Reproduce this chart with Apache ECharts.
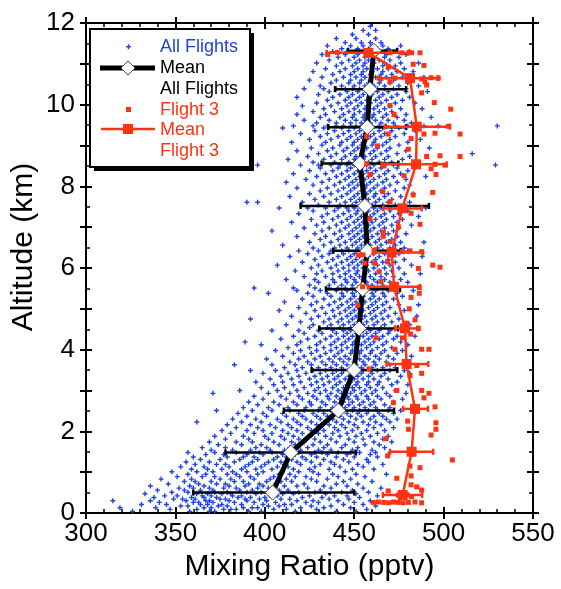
<!DOCTYPE html>
<html><head><meta charset="utf-8">
<script src="https://cdn.jsdelivr.net/npm/echarts@6/dist/echarts.min.js"></script>
<style>html,body{margin:0;padding:0;background:#fff}#c{width:561px;height:589px}</style>
</head><body><div id="c"></div>
<script>
// ---- axis ticks ----
const xTickLabels = [300, 350, 400, 450, 500, 550];
const yTickLabels = [0, 2, 4, 6, 8, 10, 12];

// ---- Mean, all flights (altitude km, mixing ratio pptv, error bar low/high) ----
const meanAllAlt = [0.50, 1.48, 2.51, 3.50, 4.52, 5.48, 6.42, 7.52, 8.56, 9.45, 10.38, 11.32];
const meanAllMix = [404.4, 414.5, 441.1, 449.9, 452.7, 454.7, 457.3, 456.0, 453.2, 457.3, 458.8, 461.0];
const meanAllLo  = [360.0, 378.0, 410.7, 426.2, 430.5, 434.2, 438.3, 420.0, 431.8, 435.5, 439.3, 446.5];
const meanAllHi  = [450.0, 451.0, 472.3, 474.1, 474.5, 475.6, 476.0, 491.8, 474.7, 479.0, 479.0, 474.0];

// ---- Mean, flight 3 ----
const meanF3Alt = [0.44, 1.50, 2.55, 3.65, 4.52, 5.54, 6.38, 7.46, 8.54, 9.46, 10.65, 11.27];
const meanF3Mix = [477.1, 482.1, 484.0, 479.3, 478.4, 472.3, 471.0, 476.9, 484.6, 485.0, 481.2, 457.9];
const meanF3Lo  = [466.0, 470.0, 477.3, 468.1, 472.8, 457.7, 460.5, 466.3, 465.4, 467.0, 464.4, 434.6];
const meanF3Hi  = [488.0, 494.2, 491.3, 491.4, 485.7, 486.8, 488.5, 487.7, 501.7, 503.6, 496.9, 480.0];

// ---- Flight 3 samples: [mixing ratio, altitude] ----
const flight3Points = [
 [435.2,11.23],[440.6,11.28],[470,11.27],[476.6,11.27],[482.1,11.27],[486.8,11.27],[483,10.99],[489,10.96],[469,10.93],
 [463.9,10.65],[470,10.56],[472.8,10.65],[487.7,10.63],[489.6,10.56],[493,10.66],[497,10.65],[490.5,10.48],[487.7,10.29],
 [494.8,10.05],[504,9.89],[470,9.98],[472.3,9.76],
 [502.7,9.47],[509.2,9.28],[495.2,9.30],[489,9.28],[469,9.28],[481.8,9.17],[457,9.22],[463,8.99],[480.3,8.91],
 [490.5,8.73],[498,8.75],[509.2,8.73],
 [457,8.55],[466.7,8.5],[495.2,8.54],[500.8,8.52],[493,8.43],[495.7,8.29],[458.8,8.29],[477.9,8.26],
 [466,7.87],[483,7.79],[493.9,7.85],[470,7.62],[481.8,7.34],[458.8,7.20],[486.8,7.07],[474.7,7.01],[466.3,6.88],
 [466.3,6.78],[470,6.65],
 [461.2,6.44],[477,6.4],[481.2,6.42],[487.7,6.4],[452.3,6.32],[455,6.32],[468.7,6.15],[461.6,6.12],[456,6.12],
 [493.9,6.07],[498,6.02],[485.9,5.99],[463.9,5.91],[465,5.67],
 [454.7,5.54],[486.4,5.52],[486.4,5.38],[481.8,5.28],[452,5.09],[480.8,5.0],[484,4.73],[479.4,4.65],[485.9,4.52],
 [481.6,4.38],[462.2,4.29],[477,4.29],
 [472.8,4.01],[487.7,4.01],[491.8,4.01],[458.3,3.53],[485,3.61],[487.7,3.42],[481.2,3.36],[473.8,3.0],[487.7,3.0],
 [491.8,2.93],[489,2.82],[471.9,2.70],[495.2,2.60],[479.9,2.25],[495.7,2.21],[495.7,2.05],[480.3,2.05],[493,1.91],
 [467.8,1.82],[468.7,1.40],[504.9,1.30],[486.8,1.11],[481.2,1.15],[473.8,0.85],[481.8,0.91],[485,0.64],[487.7,0.56],
 [481.8,0.69],[469,0.54],
 [460.7,0.26],[463.5,0.27],[466.5,0.26],[469.3,0.25],[472,0.27],[474.7,0.26],[477.4,0.25],[480.3,0.26],[484,0.27],
 [487.7,0.25],[474.7,0.44],[477,0.42],[479.5,0.45],[482,0.40]
];

// ---- All flights samples: altitude of each row (km) and the mixing ratios read at it (pptv) ----
const allAlt = [
 0.04,0.09,0.13,0.17,0.21,0.26,0.30,0.34,0.38,0.42,0.47,0.51,0.56,0.61,0.66,0.71,0.77,0.83,0.89,0.95,
 1.01,1.07,1.13,1.19,1.25,1.31,1.37,1.43,1.48,1.54,1.60,1.67,1.74,1.81,1.88,1.95,
 2.02,2.09,2.16,2.23,2.30,2.37,2.44,2.51,2.58,2.65,2.72,2.79,2.86,2.93,
 3.00,3.07,3.14,3.21,3.28,3.35,3.42,3.49,3.56,3.63,3.70,3.77,3.84,3.91,3.98,
 4.05,4.12,4.19,4.26,4.33,4.40,4.47,4.54,4.61,4.68,4.75,4.82,4.89,4.96,
 5.03,5.10,5.17,5.24,5.31,5.38,5.45,5.51,5.58,5.65,5.72,5.79,5.86,5.93,
 6.00,6.07,6.14,6.21,6.28,6.35,6.42,6.49,6.56,6.63,6.70,6.77,6.84,6.91,6.98,
 7.05,7.12,7.19,7.26,7.33,7.40,7.47,7.54,7.61,7.68,7.75,7.82,7.89,7.96,
 8.03,8.10,8.17,8.24,8.31,8.38,8.45,8.52,8.59,8.66,8.73,8.80,8.87,8.94,
 9.01,9.08,9.15,9.22,9.29,9.36,9.43,9.48,9.55,9.62,9.69,9.76,9.83,9.90,9.97,
 10.04,10.11,10.18,10.25,10.32,10.39,10.46,10.53,10.60,10.67,10.74,10.81,10.88,10.95,
 11.02,11.09,11.16,11.23,11.30,11.37,11.44,11.52,11.62,11.72,11.82,11.92
];
const allMix = [
 [326,358,369,372,391,398,417,440,451],
 [347,362,377,381,384,405,412,429,457],
 [319,339,366,370,388,393,396,420,433,448],
 [353,357,374,379,402,408,426,437,462],
 [331,345,364,368,376,387,399,411,415,444,455],
 [341,360,363,371,383,394,406,423,430,450],
 [315,336,356,367,369,380,390,401,418,427,441,459],
 [349,354,361,375,378,389,397,409,414,436,447],
 [338,359,366,373,385,392,400,421,432,453],
 [344,351,365,370,382,387,403,407,425,439,446,463],
 [333,362,368,376,381,395,410,416,434,451],
 [348,357,372,379,390,398,404,419,428,443,458],
 [340,355,364,371,386,393,408,413,431,449],
 [352,360,369,377,384,396,402,424,437,455,465],
 [336,358,366,380,389,399,411,418,433,446],
 [346,363,373,378,391,397,406,422,440,452],
 [355,361,370,383,388,401,409,415,429,444,460],
 [342,359,375,381,394,403,412,426,435,448],
 [351,365,372,386,392,405,417,423,441,456],
 [357,367,379,384,396,408,414,430,438,451,468],
 [348,362,371,382,390,399,410,419,427,445],
 [359,368,376,387,395,404,416,425,436,449,461],
 [353,366,380,389,398,407,413,428,442,455],
 [361,373,378,391,400,411,420,431,439,452,466],
 [356,369,383,393,402,409,418,426,437,447,458],
 [364,375,386,396,405,415,423,433,444,457],
 [360,379,388,394,407,412,421,429,440,450,463],
 [367,377,390,399,410,417,426,435,446,459],
 [357,372,384,397,404,413,419,428,432,441,448,453,462,470],
 [370,382,392,403,411,420,430,437,449,460],
 [365,378,395,401,414,424,433,443,452,467],
 [374,387,398,408,417,427,435,445,456,464],
 [369,384,393,405,415,422,431,440,450,461,471],
 [378,391,402,411,419,428,437,447,455,466],
 [372,388,400,409,416,425,434,442,451,459,469],
 [381,394,404,413,421,430,438,446,454,463],
 [376,390,399,410,418,426,433,441,449,457,467],
 [384,396,406,415,424,431,439,445,452,461,472],
 [379,392,403,413,420,429,436,443,450,458,465],
 [362,387,398,409,418,426,434,440,447,455,462,470],
 [382,395,407,416,423,431,438,444,451,459,468,474],
 [390,401,412,421,429,435,442,448,454,461,466],
 [385,399,410,419,427,433,439,446,452,457,464,472],
 [373,393,404,414,422,430,437,441,444,449,453,458,463,469,476],
 [388,402,413,423,431,438,445,450,456,462,470],
 [396,408,418,426,434,441,447,453,459,467],
 [391,405,416,425,432,439,444,449,455,461,472],
 [399,412,421,429,436,442,447,452,458,465,477],
 [394,409,419,427,435,440,446,451,457,463,470],
 [371,402,414,424,431,437,443,448,454,460,468,479],
 [386,407,418,428,434,441,445,450,456,462,473],
 [398,411,422,430,438,444,449,453,459,466],
 [405,416,426,433,440,446,451,457,463,471,480],
 [395,410,420,429,436,442,448,452,458,464,474],
 [403,415,425,432,439,445,450,455,461,469],
 [409,419,428,435,441,447,452,458,465,476],
 [399,413,423,431,438,443,449,454,460,467,481],
 [392,406,418,427,434,440,444,448,451,455,459,463,470,478],
 [411,421,430,437,443,449,454,460,466,473],
 [383,404,417,426,434,440,446,451,456,462,470],
 [414,424,432,438,444,450,455,461,468,479],
 [401,419,428,436,442,447,453,458,464,472],
 [410,422,431,439,445,451,456,462,469,482],
 [416,426,434,441,448,453,459,465,474],
 [406,420,429,437,443,449,454,460,467,477],
 [413,425,433,440,446,451,457,463,471],
 [398,418,429,437,443,449,454,459,466,480],
 [389,420,431,439,445,450,456,461,468,476],
 [409,424,434,441,447,452,458,464,472],
 [416,428,437,444,449,455,460,466,474,484],
 [422,432,440,446,451,457,462,469],
 [404,419,430,438,444,448,452,455,459,464,470,478],
 [425,435,442,448,453,458,465,473],
 [412,427,437,444,450,455,461,467,481],
 [420,433,441,447,452,457,463,471],
 [392,426,436,443,449,454,460,466,475],
 [415,430,439,446,451,456,462,469,485],
 [423,434,442,448,453,459,465,473],
 [408,428,438,445,450,455,461,467,478],
 [419,432,441,447,452,458,463,470],
 [426,436,443,449,454,460,466,475,486],
 [411,429,439,446,451,456,462,468],
 [421,433,442,448,453,459,464,472],
 [427,437,444,450,455,461,467,477],
 [402,424,435,443,449,454,460,466,474],
 [418,431,440,446,451,456,462,469,483],
 [394,416,428,436,441,445,449,452,456,459,463,468,475],
 [425,436,443,449,454,460,466,473],
 [430,439,446,451,457,463,470,480],
 [412,428,438,445,450,455,461,467,476],
 [422,434,442,448,453,459,465,472],
 [429,438,445,451,456,462,468,478,487],
 [417,432,441,447,452,458,464,471],
 [426,437,444,450,455,461,467,475],
 [407,430,440,447,452,457,463,470,482],
 [421,435,443,449,454,460,466,473],
 [428,438,446,451,456,462,469,478],
 [414,432,441,448,453,458,464,471,488],
 [424,436,444,450,455,461,467,475],
 [419,430,437,443,447,451,454,458,462,466,472,480],
 [427,439,446,452,457,463,470,478],
 [410,433,442,449,454,459,465,473],
 [425,437,445,451,456,462,468,476,489],
 [431,441,448,453,458,464,471],
 [418,434,443,450,455,460,466,474],
 [428,439,447,452,457,463,469,479],
 [404,432,442,449,454,459,465,472],
 [422,436,445,451,456,461,467,475],
 [429,440,447,453,458,464,471,482],
 [415,433,443,450,455,460,466,474],
 [426,438,446,452,457,462,468,477],
 [432,441,448,454,459,465,472,486],
 [419,435,444,451,456,461,467,475],
 [427,439,447,452,458,463,470,480],
 [408,424,434,441,446,450,454,457,461,465,470,478,490],
 [430,442,449,455,460,466,473],
 [390,396,421,436,445,451,456,462,469,481],
 [428,440,448,453,458,464,471],
 [414,433,443,450,455,461,467,476],
 [425,437,446,452,457,462,469,483],
 [431,441,448,454,459,465,473],
 [418,435,444,450,456,461,467,478],
 [427,439,447,452,457,463,470,481],
 [412,432,442,449,454,459,466,474],
 [423,436,445,451,456,461,468,479],
 [429,440,447,453,458,464,472,490],
 [416,434,443,450,455,460,467,476],
 [425,438,446,452,457,462,469,480],
 [431,441,448,454,459,465,474],
 [396,420,430,437,442,446,450,453,457,461,466,472,483,529],
 [427,439,447,453,458,464,471,486],
 [413,433,443,450,455,460,467,477],
 [424,437,445,451,456,462,469,481],
 [430,440,448,454,459,465,474,516],
 [418,435,444,450,455,461,468,479],
 [426,438,446,452,457,463,470,492],
 [432,442,449,454,460,466,475],
 [415,434,443,450,455,461,468,480],
 [425,437,446,452,457,462,470,487],
 [431,441,448,454,459,465,473],
 [420,435,444,451,456,461,467,478],
 [428,439,447,453,458,464,471,484],
 [410,433,443,450,455,460,466,475],
 [416,427,435,440,444,448,451,454,457,460,464,468,473,480,489,497,530],
 [429,440,448,454,459,465,472,482],
 [422,436,445,451,456,462,469,478],
 [431,442,449,455,460,466,474,493],
 [418,434,444,450,456,461,468,479],
 [427,439,447,453,458,464,471],
 [433,443,450,456,461,467,476,488],
 [421,437,446,452,457,463,470],
 [429,441,448,454,459,465,473,484],
 [435,445,451,457,462,468,477],
 [418,438,447,453,458,464,471,481],
 [430,442,449,455,460,466,474],
 [436,446,452,457,463,469,479,491],
 [422,433,440,445,449,453,456,460,463,467,472,479],
 [431,443,450,456,461,467,475,486],
 [437,447,453,458,464,470,480],
 [425,440,448,454,459,465,472],
 [432,444,451,456,462,468,477,489],
 [438,448,454,459,465,471],
 [427,442,450,455,460,466,474,483],
 [434,445,452,457,463,469,478],
 [440,449,455,460,466,473],
 [429,443,451,456,461,467,476,486],
 [436,447,453,458,464,470],
 [441,450,456,461,467,475],
 [432,445,452,457,462,468,479],
 [438,446,451,455,459,463,467,472,481],
 [443,452,458,463,469],
 [435,448,455,460,466,476],
 [445,454,459,465],
 [440,451,462],
 [449,458],
 [455,462],
 [459]
];

// ---- build series data from the arrays ----
const allPoints = [];
allAlt.forEach((a, i) => allMix[i].forEach(m => allPoints.push([m, a])));
const meanAllLine = meanAllAlt.map((a, i) => [meanAllMix[i], a]);
const meanAllErr = meanAllAlt.map((a, i) => [a, meanAllLo[i], meanAllHi[i]]);
const meanF3Line = meanF3Alt.map((a, i) => [meanF3Mix[i], a]);
const meanF3Err = meanF3Alt.map((a, i) => [a, meanF3Lo[i], meanF3Hi[i]]);

const BLUE = '#1f44e6';
const RED = '#ff3311';
const FONT = '"Liberation Sans", Arial, sans-serif';
const plusPath = 'path://M1.8,0H3.2V1.8H5V3.2H3.2V5H1.8V3.2H0V1.8H1.8Z';

function errRender(color, width) {
  return function (params, api) {
    const y = api.value(0), lo = api.value(1), hi = api.value(2);
    const p1 = api.coord([lo, y]), p2 = api.coord([hi, y]);
    const cap = 3;
    const st = { stroke: color, lineWidth: width };
    return { type: 'group', children: [
      { type: 'line', shape: { x1: p1[0], y1: p1[1], x2: p2[0], y2: p2[1] }, style: st },
      { type: 'line', shape: { x1: p1[0], y1: p1[1] - cap, x2: p1[0], y2: p1[1] + cap }, style: st },
      { type: 'line', shape: { x1: p2[0], y1: p2[1] - cap, x2: p2[0], y2: p2[1] + cap }, style: st }
    ]};
  };
}

const xMin = xTickLabels[0], xMax = xTickLabels[xTickLabels.length - 1];
const yMin = yTickLabels[0], yMax = yTickLabels[yTickLabels.length - 1];
const lineStyle = { color: '#000', width: 2 };
function xAx(pos, inside, labels) {
  return {
    type: 'value', position: pos, min: xMin, max: xMax, interval: 50,
    axisLine: { show: !inside, lineStyle: lineStyle, onZero: false },
    axisTick: { show: true, inside: inside, length: 6, lineStyle: { color: '#000', width: 2 } },
    minorTick: { show: inside, splitNumber: 5, length: 4, lineStyle: { color: '#000', width: 1.5 } },
    splitLine: { show: false },
    axisLabel: { show: labels, fontSize: 26, color: '#000', fontFamily: FONT, margin: 8 },
    name: labels ? 'Mixing Ratio (pptv)' : '', nameLocation: 'middle', nameGap: 36,
    nameTextStyle: { fontSize: 30, color: '#000', fontFamily: FONT }
  };
}
function yAx(pos, inside, labels) {
  return {
    type: 'value', position: pos, min: yMin, max: yMax, interval: 1,
    axisLine: { show: !inside, lineStyle: lineStyle, onZero: false },
    axisTick: { show: true, inside: inside, length: 6, lineStyle: { color: '#000', width: 2 } },
    minorTick: { show: inside, splitNumber: 2, length: 4, lineStyle: { color: '#000', width: 1.5 } },
    splitLine: { show: false },
    axisLabel: { show: labels, fontSize: 26, color: '#000', fontFamily: FONT, margin: 11,
      formatter: v => (yTickLabels.indexOf(v) >= 0 ? String(v) : '') }
  };
}

const chart = echarts.init(document.getElementById('c'), null, { renderer: 'canvas' });
chart.setOption({
  animation: false,
  backgroundColor: '#fff',
  grid: { left: 86, top: 23, width: 447, height: 490, containLabel: false },
  xAxis: [xAx('bottom', false, true), xAx('bottom', true, false), xAx('top', false, false), xAx('top', true, false)],
  yAxis: [yAx('left', false, true), yAx('left', true, false), yAx('right', false, false), yAx('right', true, false)],
  series: [
    { type: 'scatter', name: 'All Flights', data: allPoints, symbol: plusPath, symbolSize: 5,
      itemStyle: { color: BLUE, opacity: 1 }, silent: true, z: 2 },
    { type: 'custom', name: 'errAll', data: meanAllErr, renderItem: errRender('#000', 2.5), silent: true, z: 3 },
    { type: 'line', name: 'Mean All Flights', data: meanAllLine, symbol: 'diamond', symbolSize: 15,
      lineStyle: { color: '#000', width: 5 }, itemStyle: { color: '#fff', borderColor: '#444', borderWidth: 1 },
      silent: true, z: 4 },
    { type: 'scatter', name: 'Flight 3', data: flight3Points, symbol: 'rect', symbolSize: 5,
      itemStyle: { color: RED, opacity: 1 }, silent: true, z: 5 },
    { type: 'custom', name: 'errF3', data: meanF3Err, renderItem: errRender(RED, 2.5), silent: true, z: 5 },
    { type: 'line', name: 'Mean Flight 3', data: meanF3Line, symbol: 'rect', symbolSize: 10,
      lineStyle: { color: RED, width: 2.5 }, itemStyle: { color: RED }, silent: true, z: 6 }
  ],
  graphic: [
    { type: 'text', x: 24, y: 247, rotation: Math.PI / 2, z: 100,
      style: { text: 'Altitude (km)', font: '30px ' + FONT, fill: '#000', align: 'center', verticalAlign: 'middle' } },
    { type: 'rect', shape: { x: 94, y: 33, width: 160, height: 138 }, style: { fill: '#000' }, z: 100 },
    { type: 'rect', shape: { x: 90, y: 29, width: 160, height: 138 }, style: { fill: '#fff', stroke: '#000', lineWidth: 2 }, z: 101 },
    { type: 'rect', shape: { x: 126, y: 46, width: 5, height: 1.4 }, style: { fill: BLUE }, z: 102 },
    { type: 'rect', shape: { x: 127.8, y: 44.2, width: 1.4, height: 5 }, style: { fill: BLUE }, z: 102 },
    { type: 'line', shape: { x1: 100, y1: 68, x2: 155, y2: 68 }, style: { stroke: '#000', lineWidth: 5 }, z: 102 },
    { type: 'polygon', shape: { points: [[128, 61], [135, 68], [128, 75], [121, 68]] }, style: { fill: '#fff', stroke: '#444', lineWidth: 1 }, z: 103 },
    { type: 'rect', shape: { x: 126, y: 107, width: 5, height: 5 }, style: { fill: RED }, z: 102 },
    { type: 'line', shape: { x1: 101, y1: 129, x2: 155, y2: 129 }, style: { stroke: RED, lineWidth: 2.5 }, z: 102 },
    { type: 'rect', shape: { x: 123, y: 124, width: 10, height: 10 }, style: { fill: RED }, z: 103 },
    { type: 'text', x: 160, y: 47, z: 102, style: { text: 'All Flights', font: '18px ' + FONT, fill: BLUE, verticalAlign: 'middle' } },
    { type: 'text', x: 160, y: 68, z: 102, style: { text: 'Mean', font: '18px ' + FONT, fill: '#000', verticalAlign: 'middle' } },
    { type: 'text', x: 160, y: 89, z: 102, style: { text: 'All Flights', font: '18px ' + FONT, fill: '#000', verticalAlign: 'middle' } },
    { type: 'text', x: 160, y: 110, z: 102, style: { text: 'Flight 3', font: '18px ' + FONT, fill: RED, verticalAlign: 'middle' } },
    { type: 'text', x: 160, y: 130, z: 102, style: { text: 'Mean', font: '18px ' + FONT, fill: RED, verticalAlign: 'middle' } },
    { type: 'text', x: 160, y: 151, z: 102, style: { text: 'Flight 3', font: '18px ' + FONT, fill: RED, verticalAlign: 'middle' } }
  ]
});
</script></body></html>
